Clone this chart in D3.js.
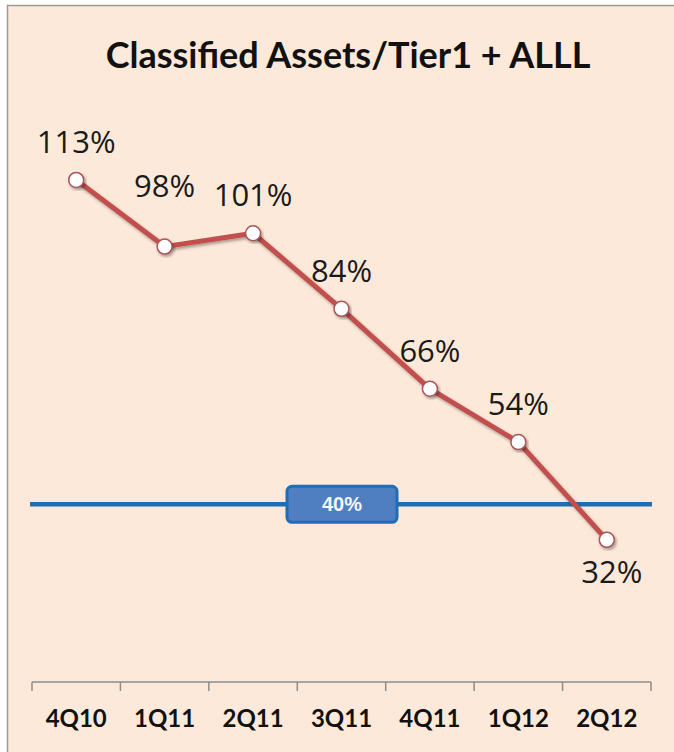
<!DOCTYPE html>
<html>
<head>
<meta charset="utf-8">
<script src="https://d3js.org/d3.v7.min.js"></script>
<style>
  html, body { margin: 0; padding: 0; background: #fff; }
  svg { display: block; }
</style>
</head>
<body>
<div id="chart"></div>
<script>
// chart values
var quarters = ["4Q10", "1Q11", "2Q11", "3Q11", "4Q11", "1Q12", "2Q12"];
var ratios = [113, 98, 101, 84, 66, 54, 32];
var targetValue = 40;
var chartTitle = "Classified Assets/Tier1 + ALLL";

var W = 674, H = 752;
var svg = d3.select("#chart").append("svg")
    .attr("width", W)
    .attr("height", H);

// drop shadow for line and markers
var defs = svg.append("defs");
var f = defs.append("filter").attr("id", "shadow")
    .attr("x", "-20%").attr("y", "-20%").attr("width", "140%").attr("height", "140%");
f.append("feDropShadow").attr("dx", 1.5).attr("dy", 2).attr("stdDeviation", 1.5)
    .attr("flood-color", "#000").attr("flood-opacity", 0.35);

// background panel
svg.append("rect")
    .attr("x", 7).attr("y", 5)
    .attr("width", W - 7).attr("height", H - 5)
    .attr("fill", "#fde9d9");
svg.append("path")
    .attr("d", "M7.5," + H + "V5.5H" + W)
    .attr("fill", "none")
    .attr("stroke", "#9a9a9a")
    .attr("stroke-width", 1.5);

// title
svg.append("text")
    .attr("x", 348).attr("y", 68)
    .attr("text-anchor", "middle")
    .attr("font-family", "Lato, 'Open Sans', sans-serif")
    .attr("font-weight", "bold")
    .attr("font-size", 36)
    .attr("fill", "#111")
    .text(chartTitle);

// scales
var x = d3.scaleBand()
    .domain(quarters)
    .range([32, 651]);
var y = d3.scaleLinear()
    .domain([0, 140])
    .range([682, 60]);

// category axis
var xAxis = svg.append("g")
    .attr("transform", "translate(0," + y(0) + ")");
xAxis.append("line")
    .attr("x1", x.range()[0]).attr("x2", x.range()[1])
    .attr("stroke", "#8c8c8c").attr("stroke-width", 1.5);
var bounds = quarters.map(function (q) { return x(q); }).concat([x.range()[1]]);
xAxis.selectAll("line.tick")
    .data(bounds)
    .enter().append("line")
    .attr("class", "tick")
    .attr("x1", function (d) { return d; })
    .attr("x2", function (d) { return d; })
    .attr("y1", 0).attr("y2", 9)
    .attr("stroke", "#8c8c8c").attr("stroke-width", 1.5);
xAxis.selectAll("text")
    .data(quarters)
    .enter().append("text")
    .attr("x", function (d) { return x(d) + x.bandwidth() / 2; })
    .attr("y", 45)
    .attr("text-anchor", "middle")
    .attr("font-family", "Lato, 'Open Sans', sans-serif")
    .attr("font-weight", "bold")
    .attr("font-size", 24)
    .attr("fill", "#111")
    .text(function (d) { return d; });

// target line
svg.append("line")
    .attr("x1", 30).attr("x2", 652)
    .attr("y1", y(targetValue)).attr("y2", y(targetValue))
    .attr("stroke", "#1f6db3")
    .attr("stroke-width", 4.5);
var tag = svg.append("g")
    .attr("transform", "translate(342," + y(targetValue) + ")");
tag.append("rect")
    .attr("x", -55).attr("y", -18)
    .attr("width", 110).attr("height", 36)
    .attr("rx", 5)
    .attr("fill", "#4f7fc0")
    .attr("stroke", "#1f6db3")
    .attr("stroke-width", 3);
tag.append("text")
    .attr("y", 7)
    .attr("text-anchor", "middle")
    .attr("font-family", "'Liberation Sans', Arial, sans-serif")
    .attr("font-weight", "bold")
    .attr("font-size", 20)
    .attr("fill", "#f4f7fb")
    .text(targetValue + "%");

// ratio line
var cx = function (d, i) { return x(quarters[i]) + x.bandwidth() / 2; };
var line = d3.line()
    .x(function (d, i) { return cx(d, i); })
    .y(function (d) { return y(d); });
svg.append("path")
    .datum(ratios)
    .attr("d", line)
    .attr("fill", "none")
    .attr("stroke", "#c0504d")
    .attr("stroke-width", 5)
    .attr("stroke-linejoin", "round")
    .attr("filter", "url(#shadow)");

svg.selectAll("circle.pt")
    .data(ratios)
    .enter().append("circle")
    .attr("class", "pt")
    .attr("cx", cx)
    .attr("cy", function (d) { return y(d); })
    .attr("r", 7.5)
    .attr("fill", "#ffffff")
    .attr("stroke", "#a8555a")
    .attr("stroke-width", 1.5)
    .attr("filter", "url(#shadow)");

// value labels (last one sits below its point, 98% sits higher)
svg.selectAll("text.val")
    .data(ratios)
    .enter().append("text")
    .attr("class", "val")
    .attr("x", function (d, i) { return cx(d, i) + (i === ratios.length - 1 ? 5 : 0); })
    .attr("y", function (d, i) {
        if (i === ratios.length - 1) return y(d) + 43;
        if (i === 1) return y(d) - 50;
        return y(d) - 27;
    })
    .attr("text-anchor", "middle")
    .attr("font-family", "'Open Sans', 'Noto Sans', sans-serif")
    .attr("font-size", 31)
    .attr("fill", "#1a1a1a")
    .text(function (d) { return d + "%"; });
</script>
</body>
</html>
